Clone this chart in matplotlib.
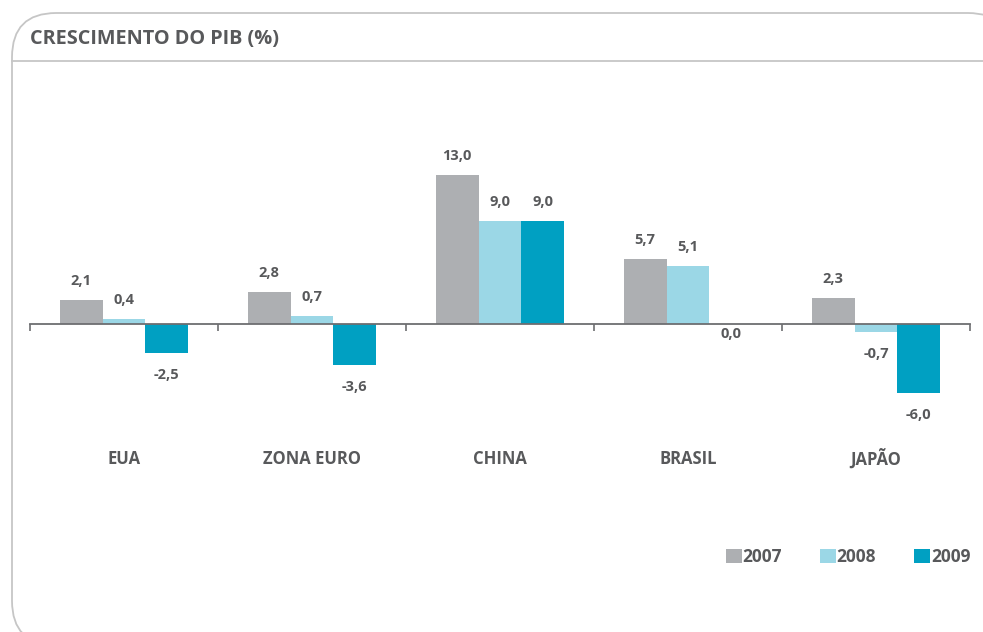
import matplotlib
matplotlib.use("Agg")
import matplotlib.pyplot as plt
import matplotlib.transforms as mtransforms
from matplotlib.patches import FancyBboxPatch
import numpy as np

plt.rcParams['font.family'] = ['Open Sans', 'DejaVu Sans']

paises = ['EUA', 'ZONA EURO', 'CHINA', 'BRASIL', 'JAPÃO']
anos = ['2007', '2008', '2009']
pib_2007 = [2.1, 2.8, 13.0, 5.7, 2.3]
pib_2008 = [0.4, 0.7, 9.0, 5.1, -0.7]
pib_2009 = [-2.5, -3.6, 9.0, 0.0, -6.0]
cores = ['#adafb2', '#9bd7e6', '#00a0c2']

cinza_txt = '#58595b'
W, H = 983, 632
fig = plt.figure(figsize=(W / 100, H / 100), dpi=100)

# cartao com cantos arredondados
card = FancyBboxPatch((12 / W, 1 - 645 / H), 1000 / W, 632 / H,
                      boxstyle='round,pad=0,rounding_size=0.045',
                      transform=fig.transFigure, fc='white', ec='#c6c6c6', lw=1.3,
                      mutation_aspect=W / H, zorder=-5)
fig.patches.append(card)
fig.add_artist(plt.Line2D([12 / W, 983 / W], [1 - 61 / H, 1 - 61 / H],
                          color='#c6c6c6', lw=1.3, zorder=-4))
fig.text(30 / W, 1 - 39 / H, 'CRESCIMENTO DO PIB (%)', fontsize=14.3, fontweight='bold',
         color=cinza_txt, va='center', ha='left')

# eixo: x de 30 a 970 px, y de 100 a 430 px
ax = fig.add_axes([30 / W, 1 - 430 / H, 940 / W, 330 / H])
ax.set_facecolor('none')
esc = 11.46
ax.set_xlim(-0.5, 4.5)
ax.set_ylim(-(430 - 324) / esc, (324 - 100) / esc)

x = np.arange(len(paises))
larg = 0.228
series = [pib_2007, pib_2008, pib_2009]
barras = []
for k, (vals, cor) in enumerate(zip(series, cores)):
    b = ax.bar(x + (k - 1) * larg, vals, larg, color=cor, label=anos[k], zorder=2)
    barras.append(b)
    for xi, v in zip(x + (k - 1) * larg, vals):
        if v > 0:
            off, va = 12, 'bottom'
        elif v < 0:
            off, va = -15, 'top'
        else:
            off, va = -3, 'top'
        ax.annotate(f'{v:.1f}'.replace('.', ','), (xi, v), xytext=(0, off),
                    textcoords='offset pixels', ha='center', va=va,
                    fontsize=10.5, fontweight='bold', color=cinza_txt)

for s in ['top', 'right', 'left']:
    ax.spines[s].set_visible(False)
ax.spines['bottom'].set_position(('data', 0))
ax.spines['bottom'].set_color('#6d6e71')
ax.spines['bottom'].set_linewidth(1.3)
ax.spines['bottom'].set_zorder(3)
ax.set_yticks([])
ax.set_xticks(x)
ax.set_xticklabels([])
ax.tick_params(axis='x', which='major', length=0)
ax.set_xticks(np.arange(len(paises) + 1) - 0.5, minor=True)
ax.tick_params(axis='x', which='minor', length=5, width=1.2, color='#6d6e71', direction='out')

trans = mtransforms.blended_transform_factory(ax.transData, fig.transFigure)
for xi, nome in zip(x, paises):
    ax.text(xi, 1 - 459 / H, nome, transform=trans, ha='center', va='center',
            fontsize=12, fontweight='bold', color=cinza_txt)

fig.legend(handles=barras, labels=anos, loc='center right',
           bbox_to_anchor=(986 / W, 1 - 557 / H), ncol=3, frameon=False,
           handlelength=0.9, handleheight=0.9, handletextpad=0.05, columnspacing=2.2,
           prop={'weight': 'bold', 'size': 12.5}, labelcolor=cinza_txt)

fig.savefig('out.png', dpi=100)
